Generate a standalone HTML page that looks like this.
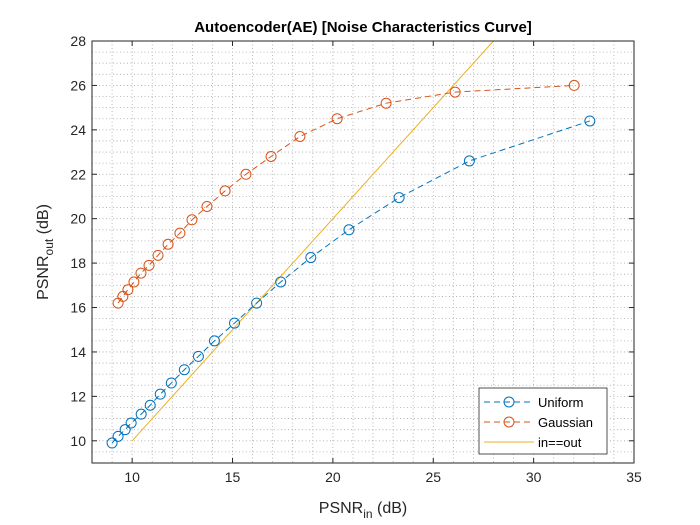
<!DOCTYPE html>
<html><head><meta charset="utf-8"><style>
body{margin:0;background:#fff;}
svg{display:block;font-family:"Liberation Sans",Arial,sans-serif;}
</style></head><body>
<svg id="chart" width="700" height="525" viewBox="0 0 700 525">
<rect width="700" height="525" fill="#fff"/>
<g id="grid"></g>
<g id="series"></g>
<rect x="92" y="41" width="542" height="422" fill="none" stroke="#262626" stroke-width="1"/>
<g id="ticks"></g>
<text x="363" y="32" text-anchor="middle" font-size="15" font-weight="bold" fill="#000">Autoencoder(AE) [Noise Characteristics Curve]</text>
<text x="363" y="513" text-anchor="middle" font-size="16" fill="#262626">PSNR<tspan font-size="12" dy="5">in</tspan><tspan dy="-5"> (dB)</tspan></text>
<text transform="translate(48,252) rotate(-90)" text-anchor="middle" font-size="16" fill="#262626">PSNR<tspan font-size="12" dy="5">out</tspan><tspan dy="-5"> (dB)</tspan></text>
<g>
<rect x="479" y="388" width="128" height="66" fill="#fff" stroke="#262626" stroke-width="0.8"/>
<g>
<line x1="484" y1="402" x2="534" y2="402" stroke="#0072BD" stroke-dasharray="6,4"/>
<circle cx="509" cy="402" r="5" fill="none" stroke="#0072BD"/>
<text x="538" y="407" font-size="13" fill="#000">Uniform</text></g>
<g>
<line x1="484" y1="422" x2="534" y2="422" stroke="#D95319" stroke-dasharray="6,4"/>
<circle cx="509" cy="422" r="5" fill="none" stroke="#D95319"/>
<text x="538" y="427" font-size="13" fill="#000">Gaussian</text></g>
<g>
<line x1="484" y1="442" x2="534" y2="442" stroke="#EDB120"/>
<text x="538" y="447" font-size="13" fill="#000">in==out</text></g>
</g>
</svg>
<script>
const uniformX=[9.0,9.3,9.65,9.95,10.45,10.9,11.4,11.95,12.6,13.3,14.1,15.1,16.2,17.4,18.9,20.8,23.3,26.8,32.8];
const uniformY=[9.9,10.2,10.5,10.8,11.2,11.6,12.1,12.6,13.2,13.8,14.5,15.3,16.2,17.15,18.25,19.5,20.95,22.6,24.4];
const gaussX=[9.3,9.54,9.79,10.09,10.44,10.84,11.29,11.79,12.38,12.98,13.73,14.63,15.67,16.92,18.36,20.21,22.65,26.09,32.02];
const gaussY=[16.2,16.5,16.8,17.15,17.55,17.9,18.35,18.85,19.35,19.95,20.55,21.25,22.0,22.8,23.7,24.5,25.2,25.7,26.0];
const idealX=[10,28];
const idealY=[10,28];
const xTicks=[10,15,20,25,30,35];
const yTicks=[10,12,14,16,18,20,22,24,26,28];
const X0=8,X1=35,Y0=9,Y1=28,L=92,R=634,T=41,B=463;
const sx=v=>L+(v-X0)/(X1-X0)*(R-L);
const sy=v=>B-(v-Y0)/(Y1-Y0)*(B-T);
const NS='http://www.w3.org/2000/svg';
function mk(tag,attrs,parent){const e=document.createElementNS(NS,tag);for(const k in attrs)e.setAttribute(k,attrs[k]);parent.appendChild(e);return e;}
const grid=document.getElementById('grid'),ticks=document.getElementById('ticks'),ser=document.getElementById('series');
for(let v=9;v<=34;v++){const g=mk('line',{x1:sx(v),x2:sx(v),y1:T,y2:B,stroke:'#a8a8a8','stroke-width':0.8,'stroke-dasharray':'1,2.5'},grid);

}
for(let v=9.5;v<28;v+=0.5){const g=mk('line',{x1:L,x2:R,y1:sy(v),y2:sy(v),stroke:'#a8a8a8','stroke-width':0.8,'stroke-dasharray':'1,2.5'},grid);

}
xTicks.forEach(v=>{mk('line',{x1:sx(v),x2:sx(v),y1:B,y2:B-5,stroke:'#262626'},ticks);
mk('line',{x1:sx(v),x2:sx(v),y1:T,y2:T+5,stroke:'#262626'},ticks);
const t=mk('text',{x:sx(v),y:B+19,'text-anchor':'middle','font-size':14,fill:'#262626'},ticks);t.textContent=v;

});
yTicks.forEach(v=>{mk('line',{x1:L,x2:L+5,y1:sy(v),y2:sy(v),stroke:'#262626'},ticks);
mk('line',{x1:R,x2:R-5,y1:sy(v),y2:sy(v),stroke:'#262626'},ticks);
const t=mk('text',{x:L-6,y:sy(v)+5,'text-anchor':'end','font-size':14,fill:'#262626'},ticks);t.textContent=v;

});
function draw(xs,ys,col,name,dash,markers){
const p=mk('polyline',{points:xs.map((x,i)=>sx(x)+','+sy(ys[i])).join(' '),fill:'none',stroke:col,'stroke-width':1,'stroke-dasharray':dash},ser);


if(markers)xs.forEach((x,i)=>{const c=mk('circle',{cx:sx(x),cy:sy(ys[i]),r:5,fill:'none',stroke:col,'stroke-width':1},ser);

});}
draw(idealX,idealY,'#EDB120','in-out','none',false);
draw(uniformX,uniformY,'#0072BD','uniform','6,4',true);
draw(gaussX,gaussY,'#D95319','gaussian','6,4',true);
</script>
</body></html>
